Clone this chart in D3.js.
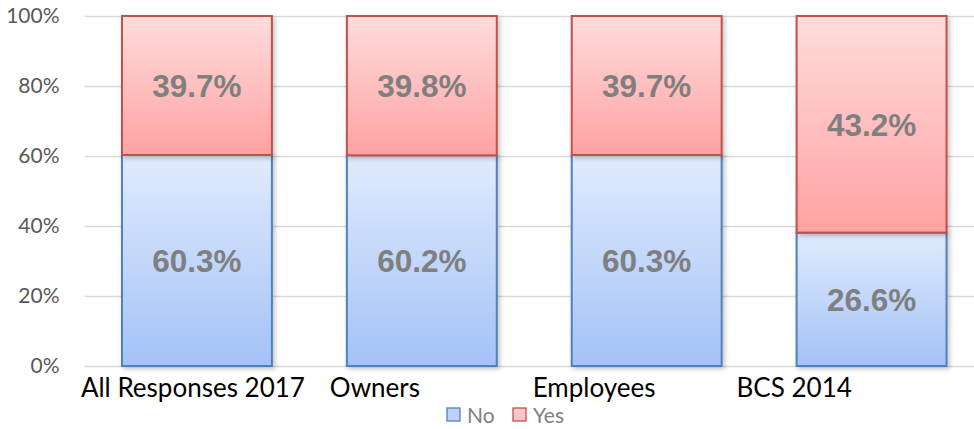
<!DOCTYPE html>
<html>
<head>
<meta charset="utf-8">
<script src="https://cdn.jsdelivr.net/npm/d3@7"></script>
<style>
  body { margin: 0; background: #fff; }
</style>
</head>
<body>
<svg id="chart" width="974" height="429"></svg>
<script>
const categories = ["All Responses 2017", "Owners", "Employees", "BCS 2014"];
const seriesNames = ["No", "Yes"];
const noValues = [60.3, 60.2, 60.3, 26.6];
const yesValues = [39.7, 39.8, 39.7, 43.2];
const yTicks = [0, 0.2, 0.4, 0.6, 0.8, 1.0];

// labels sit left of the bar centres in the original, start-anchored
const labelDx = [-116, -92, -114, -135];

const svg = d3.select("#chart");
const width = 974, height = 429;
const margin = { top: 16, right: -10, bottom: 63, left: 84.5 };

const data = categories.map((c, i) => ({ cat: c, No: noValues[i], Yes: yesValues[i] }));

const x = d3.scaleBand()
  .domain(categories)
  .range([margin.left, width - margin.right])
  .paddingInner(0)
  .paddingOuter(0);

const y = d3.scaleLinear()
  .domain([0, 1])
  .range([height - margin.bottom, margin.top]);

const stack = d3.stack().keys(seriesNames).offset(d3.stackOffsetExpand);
const series = stack(data);

const defs = svg.append("defs");
const gradNo = defs.append("linearGradient").attr("id", "gNo").attr("x1", 0).attr("y1", 0).attr("x2", 0).attr("y2", 1);
gradNo.append("stop").attr("offset", "0%").attr("stop-color", "#e1ebfd");
gradNo.append("stop").attr("offset", "100%").attr("stop-color", "#a3c2f7");
const gradYes = defs.append("linearGradient").attr("id", "gYes").attr("x1", 0).attr("y1", 0).attr("x2", 0).attr("y2", 1);
gradYes.append("stop").attr("offset", "0%").attr("stop-color", "#ffdcdc");
gradYes.append("stop").attr("offset", "100%").attr("stop-color", "#ffa2a2");

const shadow = defs.append("filter").attr("id", "shadow").attr("x", "-10%").attr("y", "-10%").attr("width", "130%").attr("height", "130%");
shadow.append("feDropShadow").attr("dx", 2).attr("dy", 2).attr("stdDeviation", 2.5).attr("flood-color", "#000").attr("flood-opacity", 0.25);

const fills = { No: "url(#gNo)", Yes: "url(#gYes)" };
const strokes = { No: "#4f81bd", Yes: "#c0504d" };
const legendFills = { No: "#bcd3fa", Yes: "#ffc4c4" };

// gridlines
svg.append("g")
  .selectAll("line")
  .data(yTicks)
  .join("line")
  .attr("x1", margin.left)
  .attr("x2", width)
  .attr("y1", d => Math.round(y(d)) + 0.5)
  .attr("y2", d => Math.round(y(d)) + 0.5)
  .attr("stroke", "#d9d9d9")
  .attr("stroke-width", 1.5);

// y axis labels
const yAxis = g => g
  .attr("transform", `translate(${margin.left - 22},0)`)
  .call(d3.axisLeft(y).tickValues(yTicks).tickFormat(d3.format(".0%")).tickSize(0))
  .call(g => g.select(".domain").remove())
  .call(g => g.selectAll("text")
    .attr("fill", "#595959")
    .attr("font-family", "Lato, 'Open Sans', sans-serif")
    .attr("font-size", 21));
svg.append("g").call(yAxis);

const barW = x.bandwidth() * 2 / 3;
const barX = d => x(d.data.cat) + (x.bandwidth() - barW) / 2;

// bars
const layers = svg.append("g")
  .selectAll("g")
  .data(series)
  .join("g");

layers.selectAll("rect")
  .data(d => d.map(v => Object.assign(v, { key: d.key })))
  .join("rect")
  .attr("x", barX)
  .attr("y", d => y(d[1]))
  .attr("width", barW)
  .attr("height", d => y(d[0]) - y(d[1]))
  .attr("fill", d => fills[d.key])
  .attr("stroke", d => strokes[d.key])
  .attr("stroke-width", 2)
  .attr("filter", "url(#shadow)");

// data labels
layers.selectAll("text")
  .data(d => d)
  .join("text")
  .attr("x", d => barX(d) + barW / 2)
  .attr("y", d => (y(d[0]) + y(d[1])) / 2)
  .attr("dy", "0.36em")
  .attr("text-anchor", "middle")
  .attr("font-family", "'Liberation Sans', Arial, sans-serif")
  .attr("font-weight", "bold")
  .attr("font-size", 31.5)
  .attr("fill", "#7f7f7f")
  .text(d => d3.format(".1f")(d.data[d.key]) + "%");

// category labels
const xAxis = g => g
  .attr("transform", `translate(0,${height - margin.bottom})`)
  .call(d3.axisBottom(x).tickSize(0).tickPadding(13))
  .call(g => g.select(".domain").remove())
  .call(g => g.selectAll("text")
    .attr("text-anchor", "start")
    .attr("dx", (d, i) => labelDx[i])
    .attr("fill", "#000")
    .attr("font-family", "Lato, 'Open Sans', sans-serif")
    .attr("font-size", 26));
svg.append("g").call(xAxis);

// legend
const legend = svg.append("g")
  .attr("transform", `translate(447,408)`)
  .selectAll("g")
  .data(seriesNames)
  .join("g")
  .attr("transform", (d, i) => `translate(${i * 66},0)`);

legend.append("rect")
  .attr("width", 13)
  .attr("height", 13)
  .attr("fill", d => legendFills[d])
  .attr("stroke", d => strokes[d])
  .attr("stroke-width", 1.3);

legend.append("text")
  .attr("x", 20)
  .attr("y", 7)
  .attr("dy", "0.36em")
  .attr("fill", "#7f7f7f")
  .attr("font-family", "Lato, 'Open Sans', sans-serif")
  .attr("font-size", 21)
  .text(d => d);
</script>
</body>
</html>
